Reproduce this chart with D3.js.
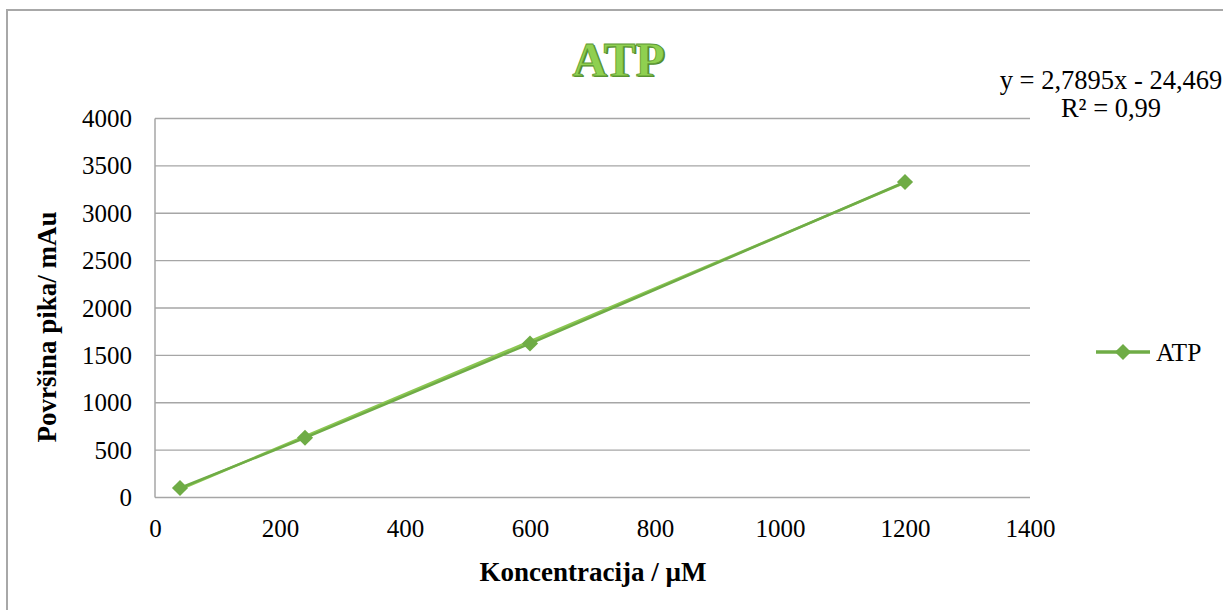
<!DOCTYPE html>
<html>
<head>
<meta charset="utf-8">
<script src="https://cdn.jsdelivr.net/npm/d3@7"></script>
<style>
  body { margin: 0; background: #fff; }
  svg { display: block; }
</style>
</head>
<body>
<div id="chart"></div>
<script>
"use strict"

// data
const concentrations = [40, 240, 600, 1200]
const areas = [100, 630, 1625, 3330]
const seriesName = "ATP"
const slope = 2.7895
const intercept = -24.469
const equationLines = ["y = 2,7895x - 24,469", "R² = 0,99"]
const xTicks = [0, 200, 400, 600, 800, 1000, 1200, 1400]
const yTicks = [0, 500, 1000, 1500, 2000, 2500, 3000, 3500, 4000]

const width = 1223, height = 610
const plot = { left: 155, right: 1030, top: 118.5, bottom: 497.5 }
const green = "#6fac46"
const serif = "Liberation Serif"

const svg = d3.select("#chart").append("svg")
  .attr("width", width)
  .attr("height", height)
  .attr("font-family", serif)

// chart frame
svg.append("rect")
  .attr("x", 7).attr("y", 10)
  .attr("width", width + 10).attr("height", height + 10)
  .attr("fill", "none")
  .attr("stroke", "#a8a8a8")
  .attr("stroke-width", 2)

const x = d3.scaleLinear().domain([0, 1400]).range([plot.left, plot.right])
const y = d3.scaleLinear().domain([0, 4000]).range([plot.bottom, plot.top])

// gridlines
svg.append("g")
  .selectAll("line")
  .data(yTicks)
  .enter()
    .append("line")
    .attr("x1", plot.left).attr("x2", plot.right)
    .attr("y1", (d) => y(d)).attr("y2", (d) => y(d))
    .attr("stroke", "#a6a6a6")
    .attr("stroke-width", 1.3)

// vertical axis line
svg.append("line")
  .attr("x1", plot.left).attr("x2", plot.left)
  .attr("y1", plot.top).attr("y2", plot.bottom)
  .attr("stroke", "#a6a6a6")
  .attr("stroke-width", 1.5)

// tick labels through d3 axes, domain and tick marks hidden
const yAxis = svg.append("g")
  .attr("transform", `translate(${plot.left},0)`)
  .call(d3.axisLeft(y).tickValues(yTicks).tickSize(0).tickPadding(23).tickFormat(d3.format("d")))
yAxis.attr("font-family", serif).attr("font-size", "25px")
yAxis.select(".domain").remove()
yAxis.selectAll("text")
  .attr("font-family", serif)
  .attr("fill", "#000")

const xAxis = svg.append("g")
  .attr("transform", `translate(0,${plot.bottom})`)
  .call(d3.axisBottom(x).tickValues(xTicks).tickSize(0).tickPadding(22).tickFormat(d3.format("d")))
xAxis.attr("font-family", serif).attr("font-size", "25px")
xAxis.select(".domain").remove()
xAxis.selectAll("text")
  .attr("font-family", serif)
  .attr("fill", "#000")

// linear trendline
const xMin = d3.min(concentrations), xMax = d3.max(concentrations)
svg.append("line")
  .attr("x1", x(xMin)).attr("y1", y(slope * xMin + intercept))
  .attr("x2", x(xMax)).attr("y2", y(slope * xMax + intercept))
  .attr("stroke", "#8cc751")
  .attr("stroke-width", 2.5)

const points = concentrations.map((c, i) => ({ c, a: areas[i] }))

svg.append("path")
  .datum(points)
  .attr("fill", "none")
  .attr("stroke", green)
  .attr("stroke-width", 2.5)
  .attr("d", d3.line().x((d) => x(d.c)).y((d) => y(d.a)))

const diamond = d3.symbol().type(d3.symbolSquare).size(130)

svg.append("g")
  .selectAll("path")
  .data(points)
  .enter()
    .append("path")
    .attr("d", diamond)
    .attr("transform", (d) => `translate(${x(d.c)},${y(d.a)}) rotate(45)`)
    .attr("fill", green)

// title with a shadow
const title = svg.append("g")
  .attr("font-family", serif)
  .attr("font-weight", "bold")
  .attr("font-size", "48px")
  .attr("text-anchor", "middle")
title.append("text")
  .attr("x", 620).attr("y", 77)
  .attr("fill", "#4f8a2b")
  .text(seriesName)
title.append("text")
  .attr("x", 618.5).attr("y", 75.5)
  .attr("fill", "#8fd050")
  .attr("stroke", "#5f9a35")
  .attr("stroke-width", 0.8)
  .text(seriesName)

// axis titles
svg.append("text")
  .attr("x", 593).attr("y", 581)
  .attr("text-anchor", "middle")
  .attr("font-family", serif)
  .attr("font-weight", "bold")
  .attr("font-size", "27px")
  .text("Koncentracija / µM")

svg.append("text")
  .attr("transform", "translate(56,327) rotate(-90)")
  .attr("text-anchor", "middle")
  .attr("font-family", serif)
  .attr("font-weight", "bold")
  .attr("font-size", "27px")
  .text("Površina pika/ mAu")

// trendline equation
svg.append("g")
  .selectAll("text")
  .data(equationLines)
  .enter()
    .append("text")
    .attr("x", 1111)
    .attr("y", (d, i) => 89 + i * 28)
    .attr("text-anchor", "middle")
    .attr("font-family", serif)
    .attr("font-size", "26.5px")
    .text((d) => d)

// legend
const legend = svg.append("g").attr("transform", "translate(1096,352)")
legend.append("line")
  .attr("x1", 0).attr("x2", 54)
  .attr("stroke", green)
  .attr("stroke-width", 3.5)
legend.append("path")
  .attr("d", diamond)
  .attr("transform", "translate(27,0) rotate(45)")
  .attr("fill", green)
legend.append("text")
  .attr("x", 60).attr("y", 9)
  .attr("font-family", serif)
  .attr("font-size", "25.5px")
  .text(seriesName)
</script>
</body>
</html>
